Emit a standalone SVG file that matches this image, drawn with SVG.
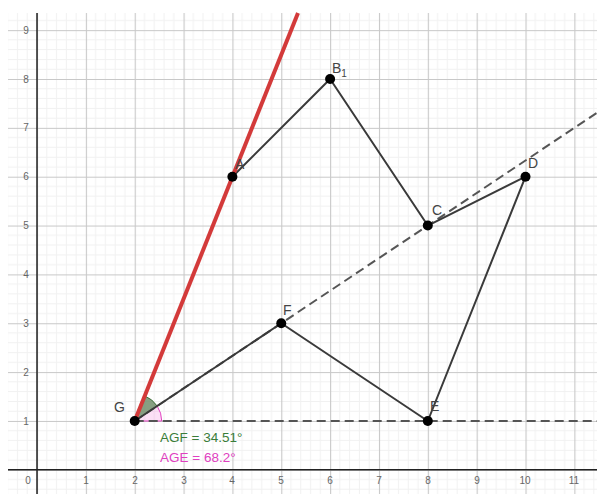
<svg xmlns="http://www.w3.org/2000/svg" width="597" height="494" viewBox="0 0 597 494">
<style>
.seg{stroke:#3a3a3a;stroke-width:2;fill:none;stroke-linecap:round}
.dash{stroke:#555;stroke-width:2;fill:none;stroke-dasharray:9 5}
.pt{fill:#000}
.lbl{font-family:"Liberation Sans",Arial,sans-serif;font-size:14px;fill:#444}
.ax{font-family:"Liberation Sans",Arial,sans-serif;font-size:10px;fill:#666;text-anchor:middle}
</style>
<defs>
<pattern id="grid" patternUnits="userSpaceOnUse" x="37" y="469.8" width="48.85" height="48.85">
<g stroke="#f1f1f1" stroke-width="1">
<line x1="9.77" y1="0" x2="9.77" y2="48.85"/>
<line x1="19.54" y1="0" x2="19.54" y2="48.85"/>
<line x1="29.31" y1="0" x2="29.31" y2="48.85"/>
<line x1="39.08" y1="0" x2="39.08" y2="48.85"/>
<line y1="9.77" x1="0" y2="9.77" x2="48.85"/>
<line y1="19.54" x1="0" y2="19.54" x2="48.85"/>
<line y1="29.31" x1="0" y2="29.31" x2="48.85"/>
<line y1="39.08" x1="0" y2="39.08" x2="48.85"/>
</g>
<g stroke="#c8c8c8" stroke-width="1.2">
<line x1="0.5" y1="0" x2="0.5" y2="48.85"/>
<line y1="0.5" x1="0" y2="0.5" x2="48.85"/>
</g>
</pattern>
</defs>
<rect width="597" height="494" fill="#fff"/>
<g id="grid-area">
<rect x="8" y="13" width="589" height="481" fill="url(#grid)"/>
</g>
<g id="axes" stroke="#222" stroke-width="1.5">
<line x1="37" y1="13" x2="37" y2="494"/>
<line x1="8" y1="469.8" x2="597" y2="469.8"/>
</g>
<g id="axis-labels" class="ax">
<text x="28" y="484">0</text>
<text x="86" y="484">1</text>
<text x="135" y="484">2</text>
<text x="184" y="484">3</text>
<text x="232" y="484">4</text>
<text x="281" y="484">5</text>
<text x="330" y="484">6</text>
<text x="379" y="484">7</text>
<text x="428" y="484">8</text>
<text x="477" y="484">9</text>
<text x="525" y="484">10</text>
<text x="574" y="484">11</text>
<text x="26" y="424.5">1</text>
<text x="26" y="375.6">2</text>
<text x="26" y="326.8">3</text>
<text x="26" y="278">4</text>
<text x="26" y="229.1">5</text>
<text x="26" y="180.2">6</text>
<text x="26" y="131.4">7</text>
<text x="26" y="82.5">8</text>
<text x="26" y="33.7">9</text>
</g>
<g id="angles">
<path d="M134.7,421 L161.7,421 A27,27 0 0 0 157.17,406.02 Z" fill="#f070d8" fill-opacity="0.22" stroke="#e040c0" stroke-width="1"/>
<path d="M134.7,421 L157.17,406.02 A27,27 0 0 0 144.73,395.93 Z" fill="#5f7f58" fill-opacity="0.75" stroke="#3f6f3a" stroke-width="1"/>
</g>
<g id="connectors">
<line class="dash" x1="134.7" y1="421" x2="597" y2="112.8"/>
<line class="dash" x1="134.7" y1="421" x2="597" y2="421"/>
<line class="seg" x1="232.4" y1="176.7" x2="330.1" y2="79"/>
<line class="seg" x1="330.1" y1="79" x2="427.8" y2="225.55"/>
<line class="seg" x1="427.8" y1="225.55" x2="525.5" y2="176.7"/>
<line class="seg" x1="525.5" y1="176.7" x2="427.8" y2="421"/>
<line class="seg" x1="427.8" y1="421" x2="281.25" y2="323.25"/>
<line class="seg" x1="281.25" y1="323.25" x2="134.7" y2="421"/>
<line x1="134.7" y1="421" x2="298" y2="13" stroke="#d33a3a" stroke-width="4" stroke-linecap="butt"/>
</g>
<g id="G"><circle class="pt" cx="134.7" cy="421" r="5"/><text class="lbl" x="114" y="412">G</text></g>
<g id="A"><circle class="pt" cx="232.4" cy="176.7" r="5"/><text class="lbl" x="235" y="169">A</text></g>
<g id="B1"><circle class="pt" cx="330.1" cy="79" r="5"/><text class="lbl" x="332" y="73">B<tspan font-size="10" dy="4">1</tspan></text></g>
<g id="C"><circle class="pt" cx="427.8" cy="225.55" r="5"/><text class="lbl" x="432" y="215">C</text></g>
<g id="D"><circle class="pt" cx="525.5" cy="176.7" r="5"/><text class="lbl" x="528" y="168">D</text></g>
<g id="E"><circle class="pt" cx="427.8" cy="421" r="5"/><text class="lbl" x="430" y="411">E</text></g>
<g id="F"><circle class="pt" cx="281.25" cy="323.25" r="5"/><text class="lbl" x="283" y="315">F</text></g>
<g id="angle-values" font-family="'Liberation Sans',Arial,sans-serif" font-size="13.5">
<text x="160" y="442" fill="#3a7d3a">AGF = 34.51°</text>
<text x="160" y="462" fill="#e040c0">AGE = 68.2°</text>
</g>
</svg>
